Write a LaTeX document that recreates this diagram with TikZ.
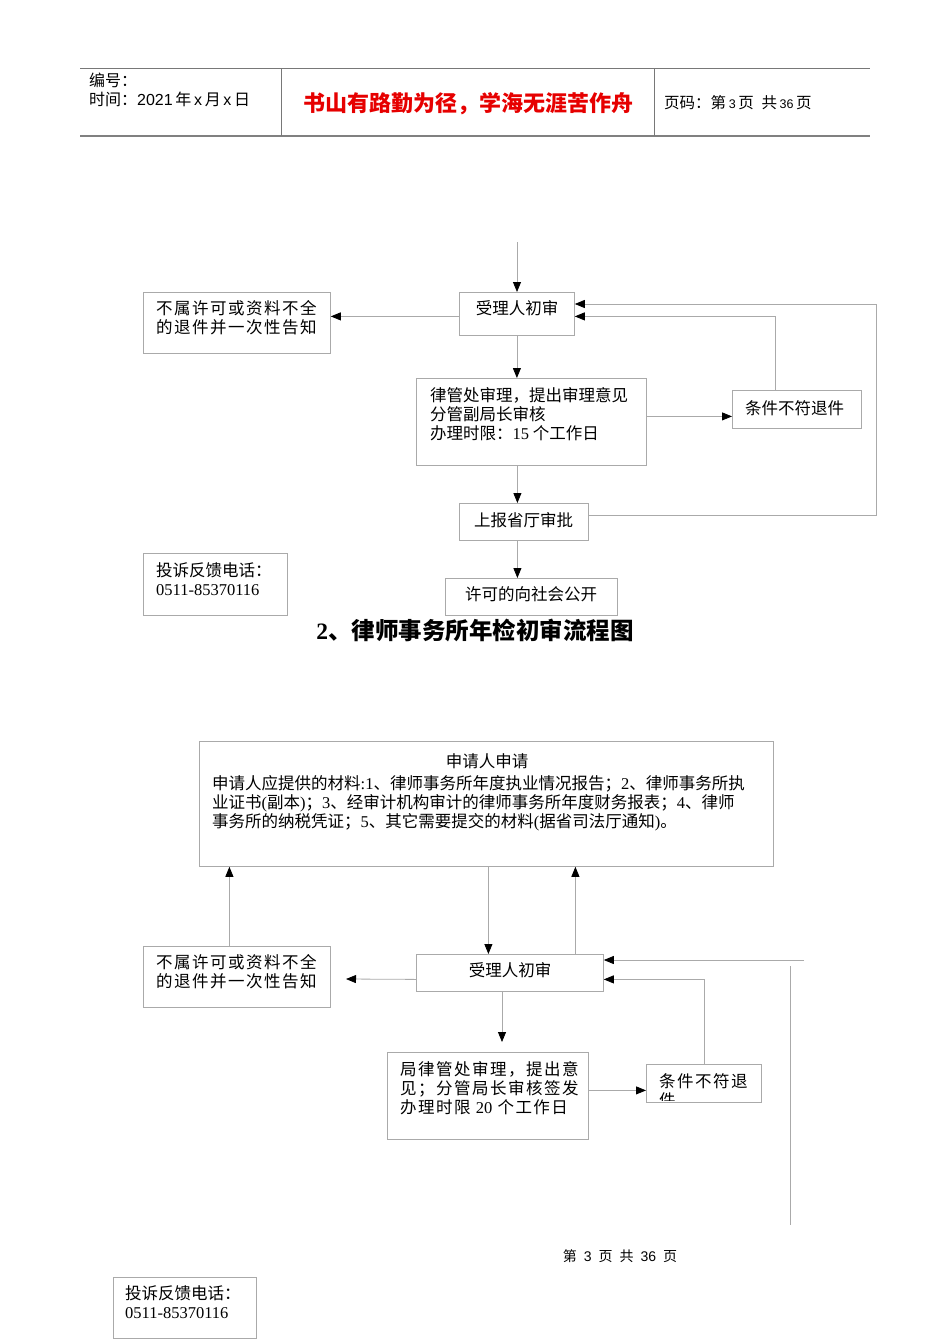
\documentclass[tikz,border=0pt]{standalone}
\usepackage{fontspec}
\setmainfont{Liberation Serif}
\newfontfamily\cjk{Noto Sans CJK SC}
\newfontfamily\cjksp[LetterSpace=9]{Noto Sans CJK SC}
\newfontfamily\hsans{Liberation Sans}
\usetikzlibrary{arrows.meta}
\definecolor{bgray}{RGB}{170,170,170}
\definecolor{hgray}{RGB}{120,120,120}
\definecolor{tred}{RGB}{230,0,0}
\tikzset{
  box/.style={draw=bgray, line width=0.8pt, inner sep=0pt, anchor=north west},
  txt/.style={inner sep=0pt, align=left, font=\fontsize{16.5}{19}\selectfont\cjk},
  sptxt/.style={inner sep=0pt, align=left, font=\fontsize{16.5}{19}\selectfont\cjksp},
  conn/.style={draw=bgray, line width=0.8pt},
  arr/.style={conn, -{Triangle[length=10pt,width=8pt,black]}}
}
\begin{document}
\begin{tikzpicture}[x=1pt,y=-1pt]
\useasboundingbox (0,0) rectangle (950,1344);
% header
\draw[hgray, line width=0.8pt] (80,68) -- (870,68);
\draw[gray, line width=1.6pt] (80,136) -- (870,136);
\draw[hgray, line width=0.8pt] (281,68) -- (281,136);
\draw[hgray, line width=0.8pt] (654,68) -- (654,136);
\node[inner sep=0pt, anchor=west, font=\fontsize{16}{18}\selectfont\cjk] (h1) at (89,80) {编号：};
\node[inner sep=0pt, anchor=west, font=\fontsize{16}{18}\selectfont\cjk] (h2) at (89,99) {时间：{\hsans 2021}\,年\,{\hsans x}\,月\,{\hsans x}\,日};
\node[inner sep=0pt, font=\fontsize{22}{24}\selectfont\cjk\bfseries, text=tred] (h3) at (468,104) {书山有路勤为径，学海无涯苦作舟};
\node[inner sep=0pt, anchor=west, font=\fontsize{15.5}{18}\selectfont\cjk] (h4) at (664,103) {页码：第\,{\fontsize{12.5}{14}\selectfont\hsans 3}\,页\enspace 共\,{\fontsize{12.5}{14}\selectfont\hsans 36}\,页};

% ---------- diagram 1 ----------
\node[box, minimum width=115, minimum height=43] (r1) at (459,292) {};
\node[box, minimum width=187, minimum height=61] (l1) at (143,292) {};
\node[box, minimum width=230, minimum height=87] (b2) at (416,378) {};
\node[box, minimum width=129, minimum height=38] (c3) at (732,390) {};
\node[box, minimum width=129, minimum height=37] (u4) at (459,503) {};
\node[box, minimum width=172, minimum height=37] (v5) at (445,578) {};
\node[box, minimum width=144, minimum height=62] (t1) at (143,553) {};

\node[txt] (r1t) at (517,308) {受理人初审};
\node[sptxt, anchor=west] (l1t) at (156,317.5) {不属许可或资料不全\\的退件并一次性告知};
\node[txt, anchor=west] (b2t) at (430,414) {律管处审理，提出审理意见\\分管副局长审核\\办理时限：{\rmfamily 15} 个工作日};
\node[txt, anchor=west] (c3t) at (745,408) {条件不符退件};
\node[txt, anchor=west] (u4t) at (474,520) {上报省厅审批};
\node[txt, anchor=west] (v5t) at (465,594) {许可的向社会公开};
\node[txt, anchor=west] (t1t) at (156,579) {投诉反馈电话：\\{\rmfamily 0511-85370116}};
\node[inner sep=0pt, font=\fontsize{23.5}{26}\selectfont\cjk\bfseries] (ttl) at (475,630) {{\rmfamily\bfseries 2}、律师事务所年检初审流程图};

\coordinate (in1) at (517,242);
\coordinate (k1) at (876,304);
\draw[arr] (in1) -- (in1 |- r1.north);
\draw[arr] ([yshift=-2.5pt]r1.west) coordinate (p1) -- (p1 -| l1.east);
\draw[arr] (r1.south) -- (r1.south |- b2.north);
\draw[arr] ([yshift=5.5pt]b2.east) coordinate (p2) -- (p2 -| c3.west);
\draw[arr] ([xshift=-21.5pt]c3.north) |- ([yshift=-2.5pt]r1.east);
\draw[arr] ([xshift=-14pt]b2.south) coordinate (p3) -- (p3 |- u4.north);
\draw[conn] ([yshift=6.5pt]u4.east) -| (k1);
\draw[arr] (k1) -- (k1 -| r1.east);
\draw[arr] ([xshift=-6.5pt]u4.south) coordinate (p4) -- (p4 |- v5.north);

% ---------- diagram 2 ----------
\node[box, minimum width=574, minimum height=125] (A) at (199,741) {};
\node[box, minimum width=187, minimum height=37] (R) at (416,954) {};
\node[box, minimum width=187, minimum height=61] (L) at (143,946) {};
\node[box, minimum width=201, minimum height=87] (B) at (387,1052) {};
\node[box, minimum width=115, minimum height=38] (C) at (646,1064) {};
\node[box, minimum width=143, minimum height=61] (t2) at (113,1277) {};

\node[txt] (At) at (487,761) {申请人申请};
\node[txt, anchor=west] (Ab) at (212,803) {申请人应提供的材料{\rmfamily :1}、律师事务所年度执业情况报告；{\rmfamily 2}、律师事务所执\\业证书{\rmfamily (}副本{\rmfamily )}；{\rmfamily 3}、经审计机构审计的律师事务所年度财务报表；{\rmfamily 4}、律师\\事务所的纳税凭证；{\rmfamily 5}、其它需要提交的材料{\rmfamily (}据省司法厅通知{\rmfamily )}。};
\node[txt] (Rt) at (510,970) {受理人初审};
\node[sptxt, anchor=west] (Lt) at (156,971.5) {不属许可或资料不全\\的退件并一次性告知};
\node[sptxt, anchor=west] (Bt) at (400,1088) {局律管处审理，提出意\\见；分管局长审核签发\\办理时限 {\rmfamily 20} 个工作日};
\begin{scope}
\clip (646,1064) rectangle (761,1100);
\node[sptxt, anchor=north west] (Ct) at (659,1073) {条件不符退\\件};
\end{scope}
\node[txt, anchor=west] (t2t) at (125,1302.5) {投诉反馈电话：\\{\rmfamily 0511-85370116}};
\node[inner sep=0pt, font=\fontsize{14}{16}\selectfont\cjk] (foot) at (620,1256) {第\enspace{\hsans 3}\enspace 页\enspace 共\enspace{\hsans 36}\enspace 页};

\coordinate (e1) at (346,979);
\coordinate (e2) at (502,1042);
\coordinate (e3) at (804,960);
\coordinate (v1) at (790,966);
\coordinate (v2) at (790,1225);
\draw[arr] ([xshift=2pt]A.south) coordinate (q1) -- (q1 |- R.north);
\draw[arr] ([xshift=65.5pt]R.north) coordinate (q2) -- (q2 |- A.south);
\draw[arr] ([yshift=-6.5pt]R.west) -- (e1);
\draw[arr] ([xshift=-7.5pt]L.north) coordinate (q3) -- (q3 |- A.south);
\draw[arr] (R.south -| e2) -- (e2);
\draw[arr] ([yshift=5.5pt]B.east) coordinate (q4) -- (q4 -| C.west);
\draw[arr] (C.north) |- ([yshift=-6.5pt]R.east);
\draw[arr] (e3) -- (e3 -| R.east);
\draw[conn] (v1) -- (v2);
\end{tikzpicture}
\end{document}
